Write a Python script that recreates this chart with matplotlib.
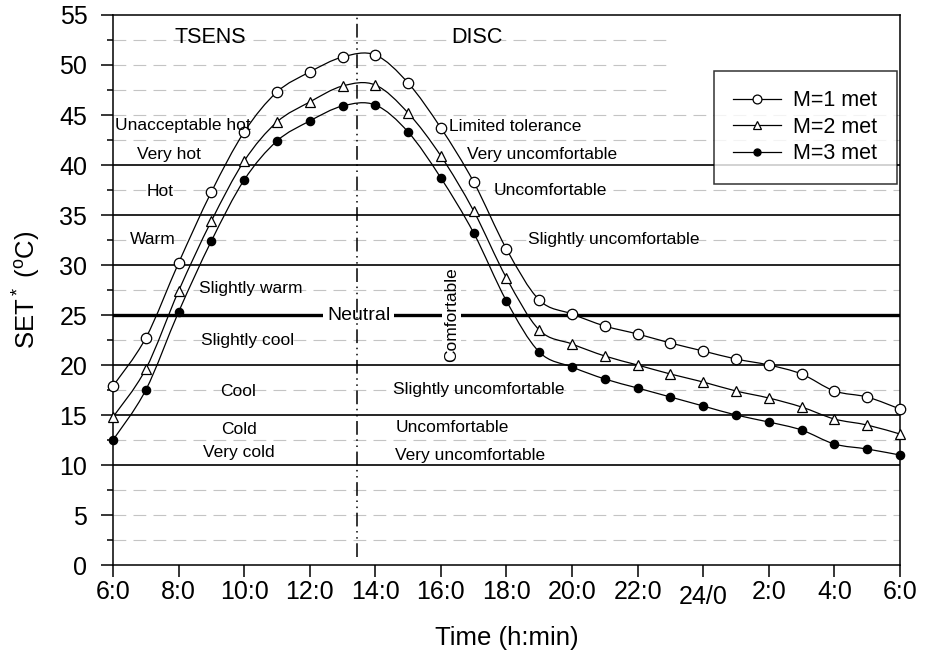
import numpy as np
import matplotlib
matplotlib.use("Agg")
import matplotlib.pyplot as plt
from matplotlib.path import Path
from matplotlib.patches import PathPatch
from matplotlib.lines import Line2D
from matplotlib.transforms import ScaledTranslation

plt.rcParams['font.family'] = ['Liberation Sans', 'DejaVu Sans']
plt.rcParams['mathtext.fontset'] = 'custom'
plt.rcParams['mathtext.rm'] = 'Liberation Sans'
plt.rcParams['mathtext.it'] = 'Liberation Sans'

# -----------------------------
# Data (hours after 6:00, SET* in deg C)
# -----------------------------
hours = list(range(25))
set_m1 = [17.9, 22.7, 30.2, 37.3, 43.3, 47.3, 49.3, 50.8, 51.0, 48.2, 43.7, 38.3, 31.6,
          26.5, 25.1, 23.9, 23.1, 22.2, 21.4, 20.6, 20.0, 19.1, 17.4, 16.8, 15.6]
set_m2 = [14.8, 19.6, 27.4, 34.4, 40.4, 44.3, 46.3, 47.9, 48.0, 45.2, 40.9, 35.4, 28.7,
          23.5, 22.1, 20.9, 20.0, 19.1, 18.3, 17.4, 16.7, 15.8, 14.6, 14.0, 13.1]
set_m3 = [12.5, 17.5, 25.3, 32.4, 38.5, 42.4, 44.4, 45.9, 46.0, 43.3, 38.7, 33.2, 26.4,
          21.3, 19.8, 18.6, 17.7, 16.8, 15.9, 15.0, 14.3, 13.5, 12.1, 11.6, 11.0]
series_labels = ["M=1 met", "M=2 met", "M=3 met"]

tick_hours = list(range(0, 25, 2))
tick_labels = ["6:0", "8:0", "10:0", "12:0", "14:0", "16:0", "18:0", "20:0",
               "22:0", "24/0", "2:0", "4:0", "6:0"]

solid_levels = [10, 15, 20, 30, 35, 40]
neutral_level = 25
divider_hour = 7.43

# left side: thermal sensation (TSENS)
tsens_labels = ["Unacceptable hot", "Very hot", "Hot", "Warm", "Slightly warm",
                "Slightly cool", "Cool", "Cold", "Very cold"]
tsens_x = [2.14, 1.71, 1.45, 1.21, 4.2, 4.1, 3.8, 3.85, 3.84]
tsens_y = [44.0, 41.1, 37.4, 32.6, 27.7, 22.5, 17.4, 13.6, 11.3]

# right side: discomfort (DISC)
disc_labels = ["Limited tolerance", "Very uncomfortable", "Uncomfortable",
               "Slightly uncomfortable", "Slightly uncomfortable", "Uncomfortable",
               "Very uncomfortable"]
disc_x = [12.26, 13.07, 13.35, 15.26, 11.14, 10.34, 10.89]
disc_y = [43.9, 41.1, 37.5, 32.6, 17.6, 13.8, 11.0]


def smooth_path(x, y):
    """Catmull-Rom style bezier path through the points (like a spline line)."""
    pts = np.column_stack([x, y]).astype(float)
    verts = [pts[0]]
    codes = [Path.MOVETO]
    n = len(pts)
    for i in range(n - 1):
        p0 = pts[i - 1] if i > 0 else pts[i]
        p1 = pts[i]
        p2 = pts[i + 1]
        p3 = pts[i + 2] if i + 2 < n else pts[i + 1]
        c1 = p1 + (p2 - p0) / 6.0
        c2 = p2 - (p3 - p1) / 6.0
        verts += [c1, c2, p2]
        codes += [Path.CURVE4] * 3
    return Path(verts, codes)


fig = plt.figure(figsize=(9.3, 6.52), dpi=100)
ax = fig.add_axes([0.1215, 0.1334, 0.8462, 0.8436])

# --- background reference lines ---
for lev in np.arange(2.5, 55, 2.5):
    if lev in solid_levels or lev == neutral_level:
        continue
    xmax = 16.85 if lev >= 47.5 else 24
    ax.hlines(lev, 0, xmax, colors="#c4c4c4", linewidth=0.8,
              linestyles=(0, (11.5, 6.5)), zorder=1)
for lev in solid_levels:
    ax.axhline(lev, color="black", linewidth=1.2, zorder=3)
ax.axhline(neutral_level, color="black", linewidth=2.4, zorder=2)
ax.axvline(divider_hour, ymin=0.8 / 55, ymax=1, color="black", linewidth=1.1,
           linestyle=(0, (9, 3, 1, 3, 1, 3)), zorder=4)

# --- data series ---
markers = [("o", "white", 7.5), ("^", "white", 7.5), ("o", "black", 6.0)]
handles = []
for vals, lab, (mk, fc, ms) in zip([set_m1, set_m2, set_m3], series_labels, markers):
    ax.add_patch(PathPatch(smooth_path(hours, vals), fill=False, edgecolor="black",
                           linewidth=0.9, zorder=5))
    ax.plot(hours, vals, linestyle="none", marker=mk, markersize=ms,
            markerfacecolor=fc, markeredgecolor="black", markeredgewidth=0.9,
            zorder=6, clip_on=False)
    handles.append(Line2D([], [], color="black", linewidth=0.9, marker=mk,
                          markersize=ms * 0.85, markerfacecolor=fc,
                          markeredgecolor="black", markeredgewidth=0.9, label=lab))

# --- category labels ---
ax.text(2.96, 52.7, "TSENS", fontsize=15.5, ha="center", va="center", zorder=7)
ax.text(11.09, 52.7, "DISC", fontsize=15.5, ha="center", va="center", zorder=7)
for lab, x, y in zip(tsens_labels, tsens_x, tsens_y):
    ax.text(x, y, lab, fontsize=12.5, ha="center", va="center", zorder=7)
for lab, x, y in zip(disc_labels, disc_x, disc_y):
    ax.text(x, y, lab, fontsize=12.5, ha="center", va="center", zorder=7)
ax.text(7.49, 25.0, "Neutral", fontsize=14, ha="center", va="center", zorder=2.5,
        bbox=dict(facecolor="white", edgecolor="none", pad=2.5))
ax.text(10.33, 25.0, "Comfortable", fontsize=12.5, rotation=90, ha="center",
        va="center", zorder=2.5, bbox=dict(facecolor="white", edgecolor="none", pad=1.5))

# --- axes ---
ax.set_xlim(0, 24)
ax.set_ylim(0, 55)
ax.set_xticks(tick_hours)
ax.set_xticklabels(tick_labels)
ax.set_yticks(range(0, 56, 5))
ax.set_yticks(np.arange(2.5, 55, 5), minor=True)
ax.tick_params(axis="both", which="major", labelsize=18, direction="out",
               length=8.5, width=1.1)
ax.tick_params(axis="y", which="major", pad=10)
ax.tick_params(axis="x", which="major", pad=2)
ax.tick_params(axis="y", which="minor", length=4, width=1.1, direction="out")
for sp in ax.spines.values():
    sp.set_linewidth(1.1)

lbl = ax.get_xticklabels()[9]
lbl.set_transform(lbl.get_transform() + ScaledTranslation(0, -4 / 72, fig.dpi_scale_trans))

ax.set_xlabel("Time (h:min)", fontsize=18.5, labelpad=12)
ax.set_ylabel(r"SET$^*$ ($^{\rm o}$C)", fontsize=18.5, labelpad=12)

leg = ax.legend(handles=handles, loc="upper right", bbox_to_anchor=(0.9962, 0.898),
                fontsize=15.5, frameon=True, fancybox=False, edgecolor="black",
                handlelength=2.2, handletextpad=0.6, borderpad=0.9, labelspacing=0.25,
                borderaxespad=0)
leg.get_frame().set_linewidth(1.1)
leg.set_zorder(8)

fig.savefig("out.png", dpi=100)
